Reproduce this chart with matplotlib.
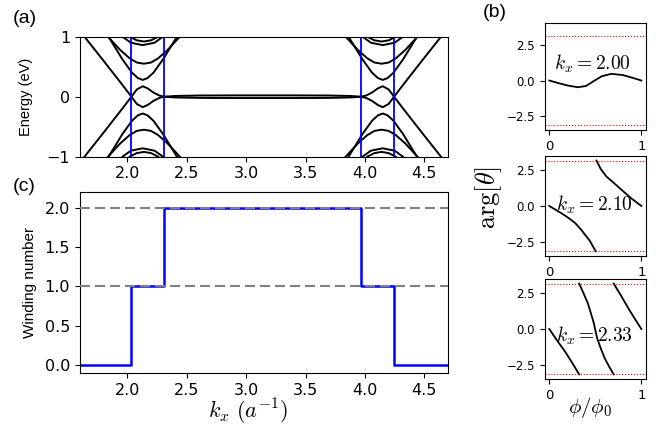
import numpy as np
import matplotlib.pyplot as plt

plt.rcParams['mathtext.fontset'] = 'cm'
nan = np.nan

# ---- (a) bands near the two Weyl pairs ----
# branch through the crossing going to the lower half of the diamond
crs1_k = [1.56, 1.64, 1.80, 1.95, 2.035, 2.08, 2.13, 2.17, 2.22, 2.27, 2.31, nan,
          4.72, 4.64, 4.48, 4.33, 4.245, 4.20, 4.15, 4.11, 4.06, 4.01, 3.97]
crs1_E = [1.2, 1.0, 0.60, 0.22, 0.0, -0.12, -0.175, -0.14, -0.07, -0.02, 0.0, nan,
          1.2, 1.0, 0.60, 0.22, 0.0, -0.12, -0.175, -0.14, -0.07, -0.02, 0.0]
crs2_k = crs1_k
crs2_E = [-1.2, -1.0, -0.60, -0.22, 0.0, 0.12, 0.175, 0.14, 0.07, 0.02, 0.0, nan,
          -1.2, -1.0, -0.60, -0.22, 0.0, 0.12, 0.175, 0.14, 0.07, 0.02, 0.0]
# nearly flat surface bands between the Weyl points
flat_k = [2.31, 2.40, 2.60, 2.90, 3.14, 3.40, 3.70, 3.88, 3.97]
flat_up_E = [0.0, 0.012, 0.02, 0.022, 0.022, 0.022, 0.02, 0.012, 0.0]
flat_dn_E = [0.0, -0.012, -0.02, -0.022, -0.022, -0.022, -0.02, -0.012, 0.0]
# first gapped band (min |E| ~ 0.28)
v1_k = [1.83, 1.96, 2.04, 2.09, 2.13, 2.17, 2.22, 2.30, 2.43, nan,
        4.45, 4.32, 4.24, 4.19, 4.15, 4.11, 4.06, 3.98, 3.85]
v1_up_E = [1.04, 0.62, 0.40, 0.31, 0.28, 0.31, 0.40, 0.62, 1.04, nan,
           1.04, 0.62, 0.40, 0.31, 0.28, 0.31, 0.40, 0.62, 1.04]
v1_dn_E = [-1.04, -0.62, -0.40, -0.31, -0.28, -0.31, -0.40, -0.62, -1.04, nan,
           -1.04, -0.62, -0.40, -0.31, -0.28, -0.31, -0.40, -0.62, -1.04]
# second gapped band (min |E| ~ 0.55)
v2_k = [1.81, 1.94, 2.02, 2.08, 2.14, 2.20, 2.26, 2.34, 2.47, nan,
        4.47, 4.34, 4.26, 4.20, 4.14, 4.08, 4.02, 3.94, 3.81]
v2_up_E = [1.06, 0.78, 0.64, 0.57, 0.55, 0.57, 0.64, 0.78, 1.06, nan,
           1.06, 0.78, 0.64, 0.57, 0.55, 0.57, 0.64, 0.78, 1.06]
v2_dn_E = [-1.06, -0.78, -0.64, -0.57, -0.55, -0.57, -0.64, -0.78, -1.06, nan,
           -1.06, -0.78, -0.64, -0.57, -0.55, -0.57, -0.64, -0.78, -1.06]
# bands at the edge of the window
arc1_k = [1.96, 2.03, 2.13, 2.23, 2.30, nan, 4.32, 4.25, 4.15, 4.05, 3.98]
arc1_up_E = [1.0, 0.90, 0.86, 0.90, 1.0, nan, 1.0, 0.90, 0.86, 0.90, 1.0]
arc1_dn_E = [-1.0, -0.90, -0.86, -0.90, -1.0, nan, -1.0, -0.90, -0.86, -0.90, -1.0]
arc2_k = [2.02, 2.08, 2.14, 2.20, 2.26, nan, 4.26, 4.20, 4.14, 4.08, 4.02]
arc2_up_E = [1.0, 0.94, 0.92, 0.94, 1.0, nan, 1.0, 0.94, 0.92, 0.94, 1.0]
arc2_dn_E = [-1.0, -0.94, -0.92, -0.94, -1.0, nan, -1.0, -0.94, -0.92, -0.94, -1.0]

# Weyl points / winding number steps
weyl_k = [2.035, 2.31, 3.97, 4.245]
wind_k = [1.6, 2.035, 2.31, 3.97, 4.245, 4.7]
wind_n = [0, 1, 2, 1, 0, 0]
wind_ref = [1.0, 2.0]

# ---- (b) phase of theta vs flux ----
phi1 = [0, 0.1, 0.2, 0.31, 0.4, 0.48, 0.57, 0.675, 0.8, 0.9, 1.0]
arg1 = [0, -0.18, -0.35, -0.47, -0.38, -0.05, 0.30, 0.47, 0.38, 0.2, 0.0]
phi2a = [0, 0.1, 0.19, 0.28, 0.35, 0.44, 0.505]
arg2a = [0, -0.38, -0.74, -1.17, -1.67, -2.41, -3.14]
phi2b = [0.513, 0.56, 0.62, 0.7, 0.765, 0.89, 1.0]
arg2b = [3.14, 2.55, 2.04, 1.6, 1.23, 0.53, 0.0]
phi3a = [0, 0.08, 0.17, 0.25, 0.325]
arg3a = [0, -0.75, -1.55, -2.35, -3.14]
phi3b = [0.325, 0.37, 0.42, 0.48, 0.52, 0.56, 0.6, 0.65, 0.70]
arg3b = [3.14, 2.5, 1.76, 0.5, -0.64, -1.35, -2.0, -2.6, -3.14]
phi3c = [0.70, 0.78, 0.86, 0.93, 1.0]
arg3c = [3.14, 2.3, 1.42, 0.7, 0.0]
kx_labels = [r'$k_x = 2.00$', r'$k_x = 2.10$', r'$k_x = 2.33$']
arg_bounds = [-np.pi, np.pi]

fig = plt.figure(figsize=(6.59, 4.30), dpi=100)

# (a)
ax_a = fig.add_axes([0.121, 0.6356, 0.559, 0.279])
for kk, ee in [(crs1_k, crs1_E), (crs2_k, crs2_E),
               (flat_k, flat_up_E), (flat_k, flat_dn_E),
               (v1_k, v1_up_E), (v1_k, v1_dn_E),
               (v2_k, v2_up_E), (v2_k, v2_dn_E),
               (arc1_k, arc1_up_E), (arc1_k, arc1_dn_E),
               (arc2_k, arc2_up_E), (arc2_k, arc2_dn_E)]:
    ax_a.plot(kk, ee, color='k', lw=1.4)
for kw in weyl_k:
    ax_a.axvline(kw, color='blue', lw=1.3)
ax_a.set_xlim(1.6, 4.7)
ax_a.set_ylim(-1, 1)
ax_a.set_yticks([-1, 0, 1])
ax_a.tick_params(labelsize=11.5)
ax_a.set_ylabel('Energy (eV)', fontsize=10.5, family='Liberation Sans', labelpad=9.5)

# (c)
ax_c = fig.add_axes([0.121, 0.1326, 0.559, 0.421])
ax_c.step(wind_k, wind_n, where='post', color='blue', lw=1.8)
for wr in wind_ref:
    ax_c.axhline(wr, color='gray', lw=1.5, dashes=(4.8, 2.4), zorder=3)
ax_c.set_xlim(1.6, 4.7)
ax_c.set_ylim(-0.1, 2.2)
ax_c.set_yticks([0, 0.5, 1.0, 1.5, 2.0])
ax_c.tick_params(labelsize=11.5)
ax_c.set_ylabel('Winding number', fontsize=11, family='Liberation Sans', labelpad=5.5)
fig.text(0.376, 0.043, r'$k_x\ (a^{-1})$', fontsize=16, ha='center', va='center')

# (b)
ax_b1 = fig.add_axes([0.8265, 0.6977, 0.1537, 0.248])
ax_b2 = fig.add_axes([0.8265, 0.4047, 0.1537, 0.2326])
ax_b3 = fig.add_axes([0.8265, 0.1186, 0.1537, 0.2326])
ax_b1.plot(phi1, arg1, color='k', lw=1.3)
ax_b2.plot(phi2a, arg2a, color='k', lw=1.3)
ax_b2.plot(phi2b, arg2b, color='k', lw=1.3)
ax_b3.plot(phi3a, arg3a, color='k', lw=1.3)
ax_b3.plot(phi3b, arg3b, color='k', lw=1.3)
ax_b3.plot(phi3c, arg3c, color='k', lw=1.3)
label_pos = [(0.47, 1.15), (0.49, 0.05), (0.49, -0.46)]
for ax, lab, pos in zip([ax_b1, ax_b2, ax_b3], kx_labels, label_pos):
    for b in arg_bounds:
        ax.axhline(b, color='red', ls=':', lw=0.8)
    ax.text(pos[0], pos[1], lab, ha='center', va='center', fontsize=14)
    ax.set_xlim(-0.05, 1.05)
    ax.set_ylim(-3.46, 3.46)
    ax.set_xticks([0, 1])
    ax.set_yticks([-2.5, 0, 2.5])
    ax.tick_params(axis='y', labelsize=8.5)
    ax.tick_params(axis='x', labelsize=9.5)
ax_b1.set_ylim(-3.46, 4.0)

fig.text(0.741, 0.54, r'$\mathrm{arg}[\theta]$', rotation=90, fontsize=19,
         ha='center', va='center')
fig.text(0.895, 0.053, r'$\phi/\phi_0$', fontsize=15, ha='center', va='center')
fig.text(0.037, 0.956, '(a)', fontsize=14, family='Liberation Sans', ha='center', va='center')
fig.text(0.037, 0.567, '(c)', fontsize=14, family='Liberation Sans', ha='center', va='center')
fig.text(0.75, 0.97, '(b)', fontsize=14, family='Liberation Sans', ha='center', va='center')

fig.savefig('out.png', dpi=100)
